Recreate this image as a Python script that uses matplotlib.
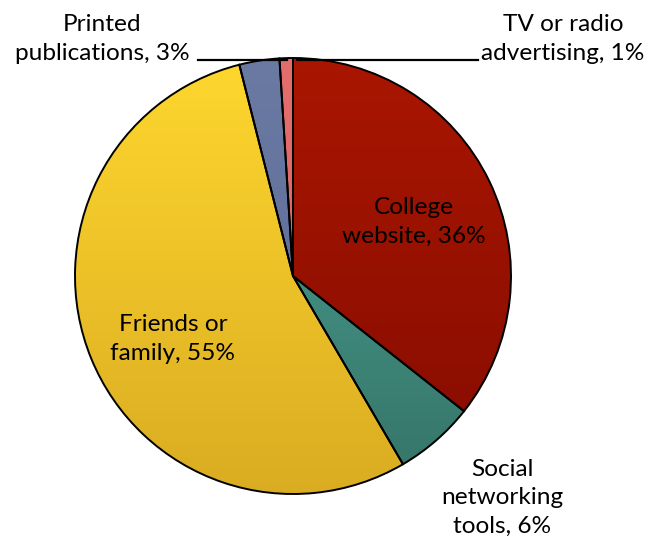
import numpy as np
import matplotlib.pyplot as plt
from matplotlib.colors import LinearSegmentedColormap

# data, clockwise from 12 o'clock
sources = ["College\nwebsite", "Social\nnetworking\ntools", "Friends or\nfamily",
           "Printed\npublications", "TV or radio\nadvertising"]
shares = [36, 6, 55, 3, 1]
top_cols = ["#A91600", "#4CA598", "#FED72E", "#6A7AA3", "#E46E6E"]
bot_cols = ["#850C00", "#357467", "#DAAC22", "#5A6994", "#D85F5F"]

W, H = 652, 541
cx, cy, r = 293, H - 276, 218

plt.rcParams['font.family'] = ['Lato', 'DejaVu Sans']

fig = plt.figure(figsize=(W / 100, H / 100), dpi=100)
ax = fig.add_axes([0, 0, 1, 1])

wedges, _ = ax.pie(shares, center=(cx, cy), radius=r, startangle=90,
                   counterclock=False, frame=True,
                   wedgeprops=dict(edgecolor='black', linewidth=1.4))
ax.set_xlim(0, W)
ax.set_ylim(0, H)
ax.set_aspect('equal')
ax.axis('off')

# vertical gradient inside each slice
grad = np.linspace(0, 1, 256).reshape(-1, 1)
for w, c1, c2 in zip(wedges, top_cols, bot_cols):
    cm = LinearSegmentedColormap.from_list('g', [c1, c2])
    im = ax.imshow(grad, cmap=cm, extent=[cx - r, cx + r, cy - r, cy + r],
                   aspect='auto', zorder=0.5, interpolation='bilinear')
    im.set_clip_path(w)
    w.set_facecolor('none')
    w.set_zorder(1)

fs = 17.6
lsp = 1.42
# label centres in pixels from top-left
label_pos = [(414, 222), (502, 498), (173, 339), (102, 39), (563, 39)]
for name, v, (x, y) in zip(sources, shares, label_pos):
    ax.text(x, H - y, f"{name}, {v}%", ha='center', va='center',
            fontsize=fs, linespacing=lsp, color='black', zorder=3)

# leader lines for the two thin slices
ax.plot([198, 287], [H - 60, H - 60], color='black', lw=1.6, zorder=2)
ax.plot([297, 478], [H - 60, H - 60], color='black', lw=1.6, zorder=2)

fig.savefig("out.png", dpi=100)
